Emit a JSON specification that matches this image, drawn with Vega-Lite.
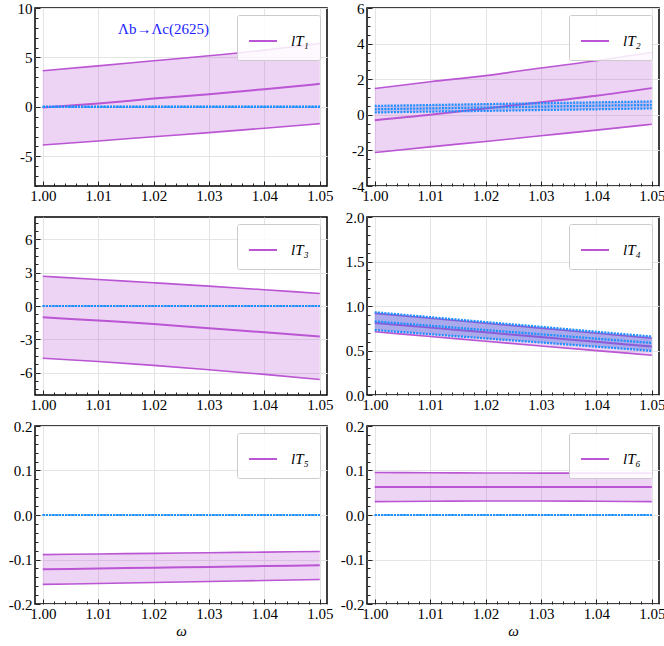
{
  "$schema": "https://vega.github.io/schema/vega-lite/v6.json",
  "background": "white",
  "padding": {"top": 0, "left": 7, "right": 0, "bottom": 0},
  "datasets": {
    "bands": [
      {"p": 1, "w": 1.00, "lo": -3.85, "mid": -0.07, "hi": 3.65, "blo": 0, "bmid": 0, "bhi": 0},
      {"p": 1, "w": 1.01, "lo": -3.45, "mid": 0.34, "hi": 4.15, "blo": 0, "bmid": 0, "bhi": 0},
      {"p": 1, "w": 1.02, "lo": -3.02, "mid": 0.84, "hi": 4.66, "blo": 0, "bmid": 0, "bhi": 0},
      {"p": 1, "w": 1.03, "lo": -2.6, "mid": 1.28, "hi": 5.17, "blo": 0, "bmid": 0, "bhi": 0},
      {"p": 1, "w": 1.04, "lo": -2.16, "mid": 1.79, "hi": 5.74, "blo": 0, "bmid": 0, "bhi": 0},
      {"p": 1, "w": 1.05, "lo": -1.69, "mid": 2.33, "hi": 6.42, "blo": 0, "bmid": 0, "bhi": 0},
      {"p": 2, "w": 1.00, "lo": -2.12, "mid": -0.3, "hi": 1.48, "blo": 0.13, "bmid": 0.31, "bhi": 0.5},
      {"p": 2, "w": 1.01, "lo": -1.8, "mid": 0.0, "hi": 1.86, "blo": 0.18, "bmid": 0.36, "bhi": 0.55},
      {"p": 2, "w": 1.02, "lo": -1.5, "mid": 0.36, "hi": 2.2, "blo": 0.22, "bmid": 0.41, "bhi": 0.6},
      {"p": 2, "w": 1.03, "lo": -1.18, "mid": 0.7, "hi": 2.63, "blo": 0.27, "bmid": 0.46, "bhi": 0.65},
      {"p": 2, "w": 1.04, "lo": -0.86, "mid": 1.07, "hi": 3.04, "blo": 0.31, "bmid": 0.51, "bhi": 0.7},
      {"p": 2, "w": 1.05, "lo": -0.53, "mid": 1.5, "hi": 3.51, "blo": 0.36, "bmid": 0.55, "bhi": 0.75},
      {"p": 3, "w": 1.00, "lo": -4.69, "mid": -1.01, "hi": 2.68, "blo": 0, "bmid": 0, "bhi": 0},
      {"p": 3, "w": 1.01, "lo": -4.99, "mid": -1.31, "hi": 2.38, "blo": 0, "bmid": 0, "bhi": 0},
      {"p": 3, "w": 1.02, "lo": -5.34, "mid": -1.61, "hi": 2.09, "blo": 0, "bmid": 0, "bhi": 0},
      {"p": 3, "w": 1.03, "lo": -5.73, "mid": -2.0, "hi": 1.79, "blo": 0, "bmid": 0, "bhi": 0},
      {"p": 3, "w": 1.04, "lo": -6.15, "mid": -2.36, "hi": 1.46, "blo": 0, "bmid": 0, "bhi": 0},
      {"p": 3, "w": 1.05, "lo": -6.6, "mid": -2.75, "hi": 1.13, "blo": 0, "bmid": 0, "bhi": 0},
      {"p": 4, "w": 1.00, "lo": 0.71, "mid": 0.81, "hi": 0.917, "blo": 0.73, "bmid": 0.827, "bhi": 0.93},
      {"p": 4, "w": 1.01, "lo": 0.657, "mid": 0.757, "hi": 0.862, "blo": 0.683, "bmid": 0.779, "bhi": 0.875},
      {"p": 4, "w": 1.02, "lo": 0.604, "mid": 0.704, "hi": 0.806, "blo": 0.636, "bmid": 0.73, "bhi": 0.82},
      {"p": 4, "w": 1.03, "lo": 0.551, "mid": 0.651, "hi": 0.75, "blo": 0.59, "bmid": 0.682, "bhi": 0.766},
      {"p": 4, "w": 1.04, "lo": 0.499, "mid": 0.598, "hi": 0.694, "blo": 0.543, "bmid": 0.633, "bhi": 0.711},
      {"p": 4, "w": 1.05, "lo": 0.447, "mid": 0.545, "hi": 0.638, "blo": 0.496, "bmid": 0.585, "bhi": 0.657},
      {"p": 5, "w": 1.00, "lo": -0.156, "mid": -0.122, "hi": -0.089, "blo": 0, "bmid": 0, "bhi": 0},
      {"p": 5, "w": 1.01, "lo": -0.1538, "mid": -0.1202, "hi": -0.0876, "blo": 0, "bmid": 0, "bhi": 0},
      {"p": 5, "w": 1.02, "lo": -0.1516, "mid": -0.1184, "hi": -0.0862, "blo": 0, "bmid": 0, "bhi": 0},
      {"p": 5, "w": 1.03, "lo": -0.1494, "mid": -0.1166, "hi": -0.0848, "blo": 0, "bmid": 0, "bhi": 0},
      {"p": 5, "w": 1.04, "lo": -0.1472, "mid": -0.1148, "hi": -0.0834, "blo": 0, "bmid": 0, "bhi": 0},
      {"p": 5, "w": 1.05, "lo": -0.145, "mid": -0.113, "hi": -0.082, "blo": 0, "bmid": 0, "bhi": 0},
      {"p": 6, "w": 1.00, "lo": 0.030, "mid": 0.063, "hi": 0.0956, "blo": 0, "bmid": 0, "bhi": 0},
      {"p": 6, "w": 1.01, "lo": 0.031, "mid": 0.063, "hi": 0.095, "blo": 0, "bmid": 0, "bhi": 0},
      {"p": 6, "w": 1.02, "lo": 0.0315, "mid": 0.063, "hi": 0.0945, "blo": 0, "bmid": 0, "bhi": 0},
      {"p": 6, "w": 1.03, "lo": 0.0315, "mid": 0.063, "hi": 0.0942, "blo": 0, "bmid": 0, "bhi": 0},
      {"p": 6, "w": 1.04, "lo": 0.031, "mid": 0.063, "hi": 0.0941, "blo": 0, "bmid": 0, "bhi": 0},
      {"p": 6, "w": 1.05, "lo": 0.030, "mid": 0.063, "hi": 0.0942, "blo": 0, "bmid": 0, "bhi": 0}
    ]
  },
  "data": {"name": "bands"},
  "columns": 2,
  "spacing": {"row": 31, "column": 40},
  "bounds": "flush",
  "resolve": {
    "scale": {"x": "independent", "y": "independent", "color": "independent"},
    "legend": {"color": "independent"}
  },
  "concat": [
    {
      "width": 292, "height": 178,
      "title": {"text": "Λb→Λc(2625)", "anchor": "start", "offset": -36, "dx": 101, "color": "#2222ff", "font": "Liberation Serif, DejaVu Serif, serif", "fontSize": 15, "fontWeight": "normal"},
      "transform": [{"filter": "datum.p == 1"}],
      "resolve": {"axis": {"y": "independent"}},
      "encoding": {
        "x": {"field": "w", "type": "quantitative", "scale": {"domain": [0.9986, 1.0513], "nice": false, "zero": false},
          "axis": {"title": null, "labelOverlap": false, "labelPadding": 7, "values": [1.0, 1.002, 1.004, 1.006, 1.008, 1.01, 1.012, 1.014, 1.016, 1.018, 1.02, 1.022, 1.024, 1.026, 1.028, 1.03, 1.032, 1.034, 1.036, 1.038, 1.04, 1.042, 1.044, 1.046, 1.048, 1.05],
            "labelExpr": "abs(datum.value*100-round(datum.value*100))<0.001 ? format(datum.value,'.2f') : ''",
            "tickSize": {"condition": {"test": "abs(datum.value*100-round(datum.value*100))<0.001", "value": -5}, "value": -3},
            "gridOpacity": {"condition": {"test": "abs(datum.value*100-round(datum.value*100))<0.001", "value": 1}, "value": 0}}}
      },
      "layer": [
        {"mark": {"type": "area", "color": "#ba55d3", "opacity": 0.25, "interpolate": "monotone"},
          "encoding": {"y": {"field": "lo", "type": "quantitative", "scale": {"domain": [-8, 10], "nice": false, "zero": false},
            "axis": {"title": null, "orient": "left", "labelOverlap": false, "labelPadding": 8, "values": [-8, -7, -6, -5, -4, -3, -2, -1, 0, 1, 2, 3, 4, 5, 6, 7, 8, 9, 10],
              "labelExpr": "datum.value % 5 == 0 ? '' + datum.value : ''",
              "tickSize": {"condition": {"test": "datum.value % 5 == 0", "value": -5}, "value": -3},
              "gridOpacity": {"condition": {"test": "datum.value % 5 == 0", "value": 1}, "value": 0}}},
            "y2": {"field": "hi"}}},
        {"mark": {"type": "line", "color": "#ba55d3", "strokeWidth": 1.6, "interpolate": "monotone"}, "encoding": {"y": {"field": "lo", "type": "quantitative", "axis": null}}},
        {"mark": {"type": "line", "color": "#ba55d3", "strokeWidth": 1.6, "interpolate": "monotone"}, "encoding": {"y": {"field": "hi", "type": "quantitative", "axis": null}}},
        {"mark": {"type": "line", "strokeWidth": 2, "interpolate": "monotone"},
          "encoding": {"y": {"field": "mid", "type": "quantitative", "axis": null},
            "color": {"datum": "lT₁", "scale": {"range": ["#ba55d3"]}, "legend": {"title": null}}}},
        {"mark": {"type": "area", "color": "#4169e1", "opacity": 0.4, "interpolate": "monotone"}, "encoding": {"y": {"field": "blo", "type": "quantitative", "axis": null}, "y2": {"field": "bhi"}}},
        {"mark": {"type": "line", "color": "#1e90ff", "strokeWidth": 2.2, "strokeDash": [2, 1.2], "interpolate": "monotone"}, "encoding": {"y": {"field": "blo", "type": "quantitative", "axis": null}}},
        {"mark": {"type": "line", "color": "#1e90ff", "strokeWidth": 2.2, "strokeDash": [2, 1.2], "interpolate": "monotone"}, "encoding": {"y": {"field": "bmid", "type": "quantitative", "axis": null}}},
        {"mark": {"type": "line", "color": "#1e90ff", "strokeWidth": 2.2, "strokeDash": [2, 1.2], "interpolate": "monotone"}, "encoding": {"y": {"field": "bhi", "type": "quantitative", "axis": null}}}
      ]
    },
    {
      "width": 292, "height": 178,
      "transform": [{"filter": "datum.p == 2"}],
      "resolve": {"axis": {"y": "independent"}},
      "encoding": {
        "x": {"field": "w", "type": "quantitative", "scale": {"domain": [0.9986, 1.0513], "nice": false, "zero": false},
          "axis": {"title": null, "labelOverlap": false, "labelPadding": 7, "values": [1.0, 1.002, 1.004, 1.006, 1.008, 1.01, 1.012, 1.014, 1.016, 1.018, 1.02, 1.022, 1.024, 1.026, 1.028, 1.03, 1.032, 1.034, 1.036, 1.038, 1.04, 1.042, 1.044, 1.046, 1.048, 1.05],
            "labelExpr": "abs(datum.value*100-round(datum.value*100))<0.001 ? format(datum.value,'.2f') : ''",
            "tickSize": {"condition": {"test": "abs(datum.value*100-round(datum.value*100))<0.001", "value": -5}, "value": -3},
            "gridOpacity": {"condition": {"test": "abs(datum.value*100-round(datum.value*100))<0.001", "value": 1}, "value": 0}}}
      },
      "layer": [
        {"mark": {"type": "area", "color": "#ba55d3", "opacity": 0.25, "interpolate": "monotone"},
          "encoding": {"y": {"field": "lo", "type": "quantitative", "scale": {"domain": [-4, 6], "nice": false, "zero": false},
            "axis": {"title": null, "orient": "left", "labelOverlap": false, "labelPadding": 8, "values": [-4, -3.5, -3, -2.5, -2, -1.5, -1, -0.5, 0, 0.5, 1, 1.5, 2, 2.5, 3, 3.5, 4, 4.5, 5, 5.5, 6],
              "labelExpr": "datum.value % 2 == 0 ? '' + datum.value : ''",
              "tickSize": {"condition": {"test": "datum.value % 2 == 0", "value": -5}, "value": -3},
              "gridOpacity": {"condition": {"test": "datum.value % 2 == 0", "value": 1}, "value": 0}}},
            "y2": {"field": "hi"}}},
        {"mark": {"type": "line", "color": "#ba55d3", "strokeWidth": 1.6, "interpolate": "monotone"}, "encoding": {"y": {"field": "lo", "type": "quantitative", "axis": null}}},
        {"mark": {"type": "line", "color": "#ba55d3", "strokeWidth": 1.6, "interpolate": "monotone"}, "encoding": {"y": {"field": "hi", "type": "quantitative", "axis": null}}},
        {"mark": {"type": "line", "strokeWidth": 2, "interpolate": "monotone"},
          "encoding": {"y": {"field": "mid", "type": "quantitative", "axis": null},
            "color": {"datum": "lT₂", "scale": {"range": ["#ba55d3"]}, "legend": {"title": null}}}},
        {"mark": {"type": "area", "color": "#4169e1", "opacity": 0.25, "interpolate": "monotone"}, "encoding": {"y": {"field": "blo", "type": "quantitative", "axis": null}, "y2": {"field": "bhi"}}},
        {"mark": {"type": "line", "color": "#1e90ff", "strokeWidth": 2.2, "strokeDash": [2, 1.2], "interpolate": "monotone"}, "encoding": {"y": {"field": "blo", "type": "quantitative", "axis": null}}},
        {"mark": {"type": "line", "color": "#1e90ff", "strokeWidth": 2.2, "strokeDash": [2, 1.2], "interpolate": "monotone"}, "encoding": {"y": {"field": "bmid", "type": "quantitative", "axis": null}}},
        {"mark": {"type": "line", "color": "#1e90ff", "strokeWidth": 2.2, "strokeDash": [2, 1.2], "interpolate": "monotone"}, "encoding": {"y": {"field": "bhi", "type": "quantitative", "axis": null}}}
      ]
    },
    {
      "width": 292, "height": 178,
      "transform": [{"filter": "datum.p == 3"}],
      "resolve": {"axis": {"y": "independent"}},
      "encoding": {
        "x": {"field": "w", "type": "quantitative", "scale": {"domain": [0.9986, 1.0513], "nice": false, "zero": false},
          "axis": {"title": null, "labelOverlap": false, "labelPadding": 7, "values": [1.0, 1.002, 1.004, 1.006, 1.008, 1.01, 1.012, 1.014, 1.016, 1.018, 1.02, 1.022, 1.024, 1.026, 1.028, 1.03, 1.032, 1.034, 1.036, 1.038, 1.04, 1.042, 1.044, 1.046, 1.048, 1.05],
            "labelExpr": "abs(datum.value*100-round(datum.value*100))<0.001 ? format(datum.value,'.2f') : ''",
            "tickSize": {"condition": {"test": "abs(datum.value*100-round(datum.value*100))<0.001", "value": -5}, "value": -3},
            "gridOpacity": {"condition": {"test": "abs(datum.value*100-round(datum.value*100))<0.001", "value": 1}, "value": 0}}}
      },
      "layer": [
        {"mark": {"type": "area", "color": "#ba55d3", "opacity": 0.25, "interpolate": "monotone"},
          "encoding": {"y": {"field": "lo", "type": "quantitative", "scale": {"domain": [-8, 8], "nice": false, "zero": false},
            "axis": {"title": null, "orient": "left", "labelOverlap": false, "labelPadding": 8, "values": [-7.5, -6.75, -6, -5.25, -4.5, -3.75, -3, -2.25, -1.5, -0.75, 0, 0.75, 1.5, 2.25, 3, 3.75, 4.5, 5.25, 6, 6.75, 7.5],
              "labelExpr": "datum.value % 3 == 0 ? '' + datum.value : ''",
              "tickSize": {"condition": {"test": "datum.value % 3 == 0", "value": -5}, "value": -3},
              "gridOpacity": {"condition": {"test": "datum.value % 3 == 0", "value": 1}, "value": 0}}},
            "y2": {"field": "hi"}}},
        {"mark": {"type": "line", "color": "#ba55d3", "strokeWidth": 1.6, "interpolate": "monotone"}, "encoding": {"y": {"field": "lo", "type": "quantitative", "axis": null}}},
        {"mark": {"type": "line", "color": "#ba55d3", "strokeWidth": 1.6, "interpolate": "monotone"}, "encoding": {"y": {"field": "hi", "type": "quantitative", "axis": null}}},
        {"mark": {"type": "line", "strokeWidth": 2, "interpolate": "monotone"},
          "encoding": {"y": {"field": "mid", "type": "quantitative", "axis": null},
            "color": {"datum": "lT₃", "scale": {"range": ["#ba55d3"]}, "legend": {"title": null}}}},
        {"mark": {"type": "area", "color": "#4169e1", "opacity": 0.4, "interpolate": "monotone"}, "encoding": {"y": {"field": "blo", "type": "quantitative", "axis": null}, "y2": {"field": "bhi"}}},
        {"mark": {"type": "line", "color": "#1e90ff", "strokeWidth": 2.2, "strokeDash": [2, 1.2], "interpolate": "monotone"}, "encoding": {"y": {"field": "blo", "type": "quantitative", "axis": null}}},
        {"mark": {"type": "line", "color": "#1e90ff", "strokeWidth": 2.2, "strokeDash": [2, 1.2], "interpolate": "monotone"}, "encoding": {"y": {"field": "bmid", "type": "quantitative", "axis": null}}},
        {"mark": {"type": "line", "color": "#1e90ff", "strokeWidth": 2.2, "strokeDash": [2, 1.2], "interpolate": "monotone"}, "encoding": {"y": {"field": "bhi", "type": "quantitative", "axis": null}}}
      ]
    },
    {
      "width": 292, "height": 178,
      "transform": [{"filter": "datum.p == 4"}],
      "resolve": {"axis": {"y": "independent"}},
      "encoding": {
        "x": {"field": "w", "type": "quantitative", "scale": {"domain": [0.9986, 1.0513], "nice": false, "zero": false},
          "axis": {"title": null, "labelOverlap": false, "labelPadding": 7, "values": [1.0, 1.002, 1.004, 1.006, 1.008, 1.01, 1.012, 1.014, 1.016, 1.018, 1.02, 1.022, 1.024, 1.026, 1.028, 1.03, 1.032, 1.034, 1.036, 1.038, 1.04, 1.042, 1.044, 1.046, 1.048, 1.05],
            "labelExpr": "abs(datum.value*100-round(datum.value*100))<0.001 ? format(datum.value,'.2f') : ''",
            "tickSize": {"condition": {"test": "abs(datum.value*100-round(datum.value*100))<0.001", "value": -5}, "value": -3},
            "gridOpacity": {"condition": {"test": "abs(datum.value*100-round(datum.value*100))<0.001", "value": 1}, "value": 0}}}
      },
      "layer": [
        {"mark": {"type": "area", "color": "#ba55d3", "opacity": 0.25, "interpolate": "monotone"},
          "encoding": {"y": {"field": "lo", "type": "quantitative", "scale": {"domain": [0, 2], "nice": false, "zero": false},
            "axis": {"title": null, "orient": "left", "labelOverlap": false, "labelPadding": 8, "values": [0, 0.1, 0.2, 0.3, 0.4, 0.5, 0.6, 0.7, 0.8, 0.9, 1, 1.1, 1.2, 1.3, 1.4, 1.5, 1.6, 1.7, 1.8, 1.9, 2],
              "labelExpr": "abs(datum.value*2-round(datum.value*2))<0.001 ? format(datum.value,'.1f') : ''",
              "tickSize": {"condition": {"test": "abs(datum.value*2-round(datum.value*2))<0.001", "value": -5}, "value": -3},
              "gridOpacity": {"condition": {"test": "abs(datum.value*2-round(datum.value*2))<0.001", "value": 1}, "value": 0}}},
            "y2": {"field": "hi"}}},
        {"mark": {"type": "line", "color": "#ba55d3", "strokeWidth": 1.6, "interpolate": "monotone"}, "encoding": {"y": {"field": "lo", "type": "quantitative", "axis": null}}},
        {"mark": {"type": "line", "color": "#ba55d3", "strokeWidth": 1.6, "interpolate": "monotone"}, "encoding": {"y": {"field": "hi", "type": "quantitative", "axis": null}}},
        {"mark": {"type": "line", "strokeWidth": 2, "interpolate": "monotone"},
          "encoding": {"y": {"field": "mid", "type": "quantitative", "axis": null},
            "color": {"datum": "lT₄", "scale": {"range": ["#ba55d3"]}, "legend": {"title": null}}}},
        {"mark": {"type": "area", "color": "#4169e1", "opacity": 0.4, "interpolate": "monotone"}, "encoding": {"y": {"field": "blo", "type": "quantitative", "axis": null}, "y2": {"field": "bhi"}}},
        {"mark": {"type": "line", "color": "#1e90ff", "strokeWidth": 2.2, "strokeDash": [2, 1.2], "interpolate": "monotone"}, "encoding": {"y": {"field": "blo", "type": "quantitative", "axis": null}}},
        {"mark": {"type": "line", "color": "#1e90ff", "strokeWidth": 2.2, "strokeDash": [2, 1.2], "interpolate": "monotone"}, "encoding": {"y": {"field": "bmid", "type": "quantitative", "axis": null}}},
        {"mark": {"type": "line", "color": "#1e90ff", "strokeWidth": 2.2, "strokeDash": [2, 1.2], "interpolate": "monotone"}, "encoding": {"y": {"field": "bhi", "type": "quantitative", "axis": null}}}
      ]
    },
    {
      "width": 292, "height": 178,
      "transform": [{"filter": "datum.p == 5"}],
      "resolve": {"axis": {"y": "independent"}},
      "encoding": {
        "x": {"field": "w", "type": "quantitative", "scale": {"domain": [0.9986, 1.0513], "nice": false, "zero": false},
          "axis": {"title": "ω", "titlePadding": 0, "labelOverlap": false, "labelPadding": 7, "values": [1.0, 1.002, 1.004, 1.006, 1.008, 1.01, 1.012, 1.014, 1.016, 1.018, 1.02, 1.022, 1.024, 1.026, 1.028, 1.03, 1.032, 1.034, 1.036, 1.038, 1.04, 1.042, 1.044, 1.046, 1.048, 1.05],
            "labelExpr": "abs(datum.value*100-round(datum.value*100))<0.001 ? format(datum.value,'.2f') : ''",
            "tickSize": {"condition": {"test": "abs(datum.value*100-round(datum.value*100))<0.001", "value": -5}, "value": -3},
            "gridOpacity": {"condition": {"test": "abs(datum.value*100-round(datum.value*100))<0.001", "value": 1}, "value": 0}}}
      },
      "layer": [
        {"mark": {"type": "area", "color": "#ba55d3", "opacity": 0.25, "interpolate": "monotone"},
          "encoding": {"y": {"field": "lo", "type": "quantitative", "scale": {"domain": [-0.2, 0.2], "nice": false, "zero": false},
            "axis": {"title": null, "orient": "left", "labelOverlap": false, "labelPadding": 8, "values": [-0.2, -0.18, -0.16, -0.14, -0.12, -0.1, -0.08, -0.06, -0.04, -0.02, 0, 0.02, 0.04, 0.06, 0.08, 0.1, 0.12, 0.14, 0.16, 0.18, 0.2],
              "labelExpr": "abs(datum.value*10-round(datum.value*10))<0.001 ? replace(format(datum.value,'.1f'),'−','-') : ''",
              "tickSize": {"condition": {"test": "abs(datum.value*10-round(datum.value*10))<0.001", "value": -5}, "value": -3},
              "gridOpacity": {"condition": {"test": "abs(datum.value*10-round(datum.value*10))<0.001", "value": 1}, "value": 0}}},
            "y2": {"field": "hi"}}},
        {"mark": {"type": "line", "color": "#ba55d3", "strokeWidth": 1.6, "interpolate": "monotone"}, "encoding": {"y": {"field": "lo", "type": "quantitative", "axis": null}}},
        {"mark": {"type": "line", "color": "#ba55d3", "strokeWidth": 1.6, "interpolate": "monotone"}, "encoding": {"y": {"field": "hi", "type": "quantitative", "axis": null}}},
        {"mark": {"type": "line", "strokeWidth": 2, "interpolate": "monotone"},
          "encoding": {"y": {"field": "mid", "type": "quantitative", "axis": null},
            "color": {"datum": "lT₅", "scale": {"range": ["#ba55d3"]}, "legend": {"title": null}}}},
        {"mark": {"type": "area", "color": "#4169e1", "opacity": 0.4, "interpolate": "monotone"}, "encoding": {"y": {"field": "blo", "type": "quantitative", "axis": null}, "y2": {"field": "bhi"}}},
        {"mark": {"type": "line", "color": "#1e90ff", "strokeWidth": 2.2, "strokeDash": [2, 1.2], "interpolate": "monotone"}, "encoding": {"y": {"field": "blo", "type": "quantitative", "axis": null}}},
        {"mark": {"type": "line", "color": "#1e90ff", "strokeWidth": 2.2, "strokeDash": [2, 1.2], "interpolate": "monotone"}, "encoding": {"y": {"field": "bmid", "type": "quantitative", "axis": null}}},
        {"mark": {"type": "line", "color": "#1e90ff", "strokeWidth": 2.2, "strokeDash": [2, 1.2], "interpolate": "monotone"}, "encoding": {"y": {"field": "bhi", "type": "quantitative", "axis": null}}}
      ]
    },
    {
      "width": 292, "height": 178,
      "transform": [{"filter": "datum.p == 6"}],
      "resolve": {"axis": {"y": "independent"}},
      "encoding": {
        "x": {"field": "w", "type": "quantitative", "scale": {"domain": [0.9986, 1.0513], "nice": false, "zero": false},
          "axis": {"title": "ω", "titlePadding": 0, "labelOverlap": false, "labelPadding": 7, "values": [1.0, 1.002, 1.004, 1.006, 1.008, 1.01, 1.012, 1.014, 1.016, 1.018, 1.02, 1.022, 1.024, 1.026, 1.028, 1.03, 1.032, 1.034, 1.036, 1.038, 1.04, 1.042, 1.044, 1.046, 1.048, 1.05],
            "labelExpr": "abs(datum.value*100-round(datum.value*100))<0.001 ? format(datum.value,'.2f') : ''",
            "tickSize": {"condition": {"test": "abs(datum.value*100-round(datum.value*100))<0.001", "value": -5}, "value": -3},
            "gridOpacity": {"condition": {"test": "abs(datum.value*100-round(datum.value*100))<0.001", "value": 1}, "value": 0}}}
      },
      "layer": [
        {"mark": {"type": "area", "color": "#ba55d3", "opacity": 0.25, "interpolate": "monotone"},
          "encoding": {"y": {"field": "lo", "type": "quantitative", "scale": {"domain": [-0.2, 0.2], "nice": false, "zero": false},
            "axis": {"title": null, "orient": "left", "labelOverlap": false, "labelPadding": 8, "values": [-0.2, -0.18, -0.16, -0.14, -0.12, -0.1, -0.08, -0.06, -0.04, -0.02, 0, 0.02, 0.04, 0.06, 0.08, 0.1, 0.12, 0.14, 0.16, 0.18, 0.2],
              "labelExpr": "abs(datum.value*10-round(datum.value*10))<0.001 ? replace(format(datum.value,'.1f'),'−','-') : ''",
              "tickSize": {"condition": {"test": "abs(datum.value*10-round(datum.value*10))<0.001", "value": -5}, "value": -3},
              "gridOpacity": {"condition": {"test": "abs(datum.value*10-round(datum.value*10))<0.001", "value": 1}, "value": 0}}},
            "y2": {"field": "hi"}}},
        {"mark": {"type": "line", "color": "#ba55d3", "strokeWidth": 1.6, "interpolate": "monotone"}, "encoding": {"y": {"field": "lo", "type": "quantitative", "axis": null}}},
        {"mark": {"type": "line", "color": "#ba55d3", "strokeWidth": 1.6, "interpolate": "monotone"}, "encoding": {"y": {"field": "hi", "type": "quantitative", "axis": null}}},
        {"mark": {"type": "line", "strokeWidth": 2, "interpolate": "monotone"},
          "encoding": {"y": {"field": "mid", "type": "quantitative", "axis": null},
            "color": {"datum": "lT₆", "scale": {"range": ["#ba55d3"]}, "legend": {"title": null}}}},
        {"mark": {"type": "area", "color": "#4169e1", "opacity": 0.4, "interpolate": "monotone"}, "encoding": {"y": {"field": "blo", "type": "quantitative", "axis": null}, "y2": {"field": "bhi"}}},
        {"mark": {"type": "line", "color": "#1e90ff", "strokeWidth": 2.2, "strokeDash": [2, 1.2], "interpolate": "monotone"}, "encoding": {"y": {"field": "blo", "type": "quantitative", "axis": null}}},
        {"mark": {"type": "line", "color": "#1e90ff", "strokeWidth": 2.2, "strokeDash": [2, 1.2], "interpolate": "monotone"}, "encoding": {"y": {"field": "bmid", "type": "quantitative", "axis": null}}},
        {"mark": {"type": "line", "color": "#1e90ff", "strokeWidth": 2.2, "strokeDash": [2, 1.2], "interpolate": "monotone"}, "encoding": {"y": {"field": "bhi", "type": "quantitative", "axis": null}}}
      ]
    }
  ],
  "config": {
    "view": {"stroke": "black", "strokeWidth": 1.5},
    "axis": {
      "labelFont": "Liberation Serif, DejaVu Serif, serif", "labelFontSize": 15, "labelColor": "black", "labelPadding": 3,
      "labelOverlap": false, "domain": false, "tickColor": "#222222", "tickWidth": 1,
      "gridColor": "#e4e4e4", "gridWidth": 1,
      "titleFont": "Liberation Serif, DejaVu Serif, serif", "titleFontStyle": "italic", "titleFontWeight": "normal", "titleFontSize": 15, "titleColor": "black"
    },
    "legend": {
      "orient": "top-right", "offset": 7, "padding": 11,
      "strokeColor": "#cccccc", "fillColor": "rgba(255,255,255,0.85)", "cornerRadius": 2,
      "symbolType": "stroke", "symbolSize": 784, "symbolStrokeWidth": 2,
      "labelFont": "Liberation Serif, DejaVu Serif, serif", "labelFontStyle": "italic", "labelFontSize": 15, "labelOffset": 13, "labelColor": "black"
    }
  }
}
